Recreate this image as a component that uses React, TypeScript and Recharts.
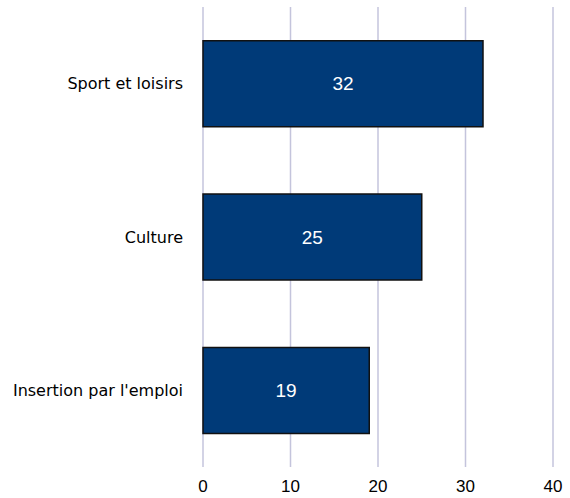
import React from "react";
import { BarChart, Bar, XAxis, YAxis, CartesianGrid, LabelList } from "recharts";

const categories = ["Sport et loisirs", "Culture", "Insertion par l'emploi"];
const values = [32, 25, 19];
const xTicks = [0, 10, 20, 30, 40];

const data = categories.map((name, i) => ({ name, value: values[i] }));

export default function App() {
  return (
    <div style={{ position: "absolute", left: 0, top: 0, width: 570, height: 498, background: "#fff" }}>
      <BarChart
        width={570}
        height={498}
        data={data}
        layout="vertical"
        margin={{ top: 7, right: 17, bottom: 0, left: 0 }}
        barCategoryGap="22%"
      >
        <CartesianGrid horizontal={false} stroke="#c4c4dc" strokeWidth={1.5} />
        <XAxis
          type="number"
          domain={[0, 40]}
          ticks={xTicks}
          axisLine={false}
          tickLine={false}
          height={31}
          tickMargin={7}
          tick={{ fill: "#000", fontSize: 17, fontFamily: "Liberation Sans, Arial, sans-serif" }}
        />
        <YAxis
          type="category"
          dataKey="name"
          width={203}
          axisLine={false}
          tickLine={false}
          tickMargin={14}
          tick={{ fill: "#000", fontSize: 16, fontFamily: "DejaVu Sans, sans-serif" }}
        />
        <Bar dataKey="value" fill="#003a78" stroke="#111" strokeWidth={1.5} isAnimationActive={false}>
          <LabelList
            dataKey="value"
            position="center"
            fill="#fff"
            style={{ fontSize: 19, fontFamily: "Liberation Sans, Arial, sans-serif" }}
          />
        </Bar>
      </BarChart>
    </div>
  );
}
